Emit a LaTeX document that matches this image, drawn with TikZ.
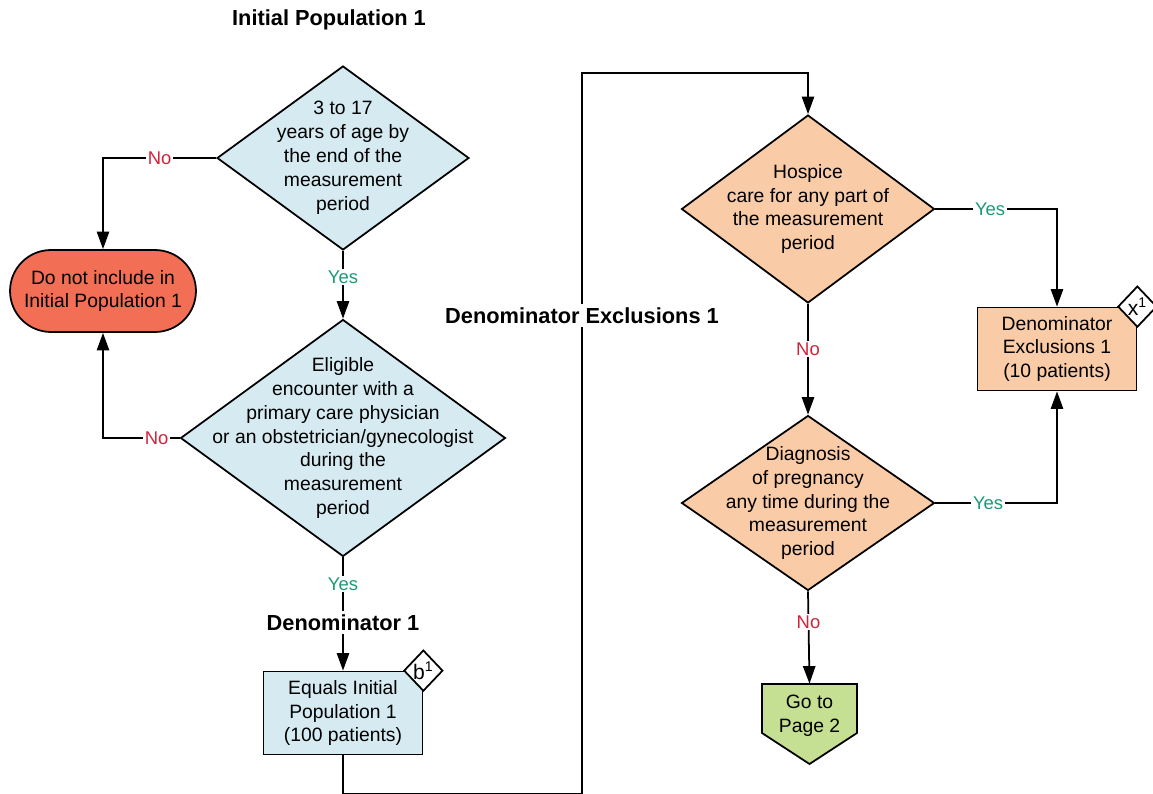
\documentclass[tikz,border=0pt]{standalone}
\usepackage{fontspec}
\setmainfont{Liberation Sans}
\usetikzlibrary{shapes.geometric,arrows.meta}
\definecolor{popblue}{HTML}{D5EAF1}
\definecolor{exorange}{HTML}{F9CBA6}
\definecolor{stopred}{HTML}{F26F55}
\definecolor{gogreen}{HTML}{C5DF93}
\definecolor{yesgreen}{HTML}{1B9A77}
\definecolor{nored}{HTML}{D0243A}
\begin{document}
\begin{tikzpicture}[x=0.02cm, y=-0.02cm,
    every node/.style={font=\fontsize{11}{13.6}\selectfont},
    box/.style={draw, line width=1pt, align=center, inner sep=0pt},
    dia/.style={box, diamond, fill=popblue},
    rect/.style={box, rectangle, minimum width=3.18cm, minimum height=1.66cm},
    tag/.style={box, diamond, fill=white, minimum width=0.78cm, minimum height=0.82cm,
      font=\fontsize{12}{14}\selectfont},
    yeslbl/.style={fill=white, text=yesgreen, inner sep=1pt, font=\fontsize{10.5}{12}\selectfont},
    nolbl/.style={yeslbl, text=nored},
    head/.style={fill=white, inner sep=2pt, font=\fontsize{12.4}{15}\selectfont\bfseries},
    arr/.style={line width=1pt, -{Triangle[length=10pt,width=7pt]}}]
  \useasboundingbox (0,0) rectangle (1153,794);
  % left column
  \node[head] (ipt) at (329,20) {Initial Population 1};
  \node[dia, minimum width=5.04cm, minimum height=3.68cm,
    label={[align=center]center:{3 to 17\\years of age by\\the end of the\\measurement\\period}}] (age) at (343,158) {};
  \node[dia, minimum width=6.5cm, minimum height=4.74cm,
    label={[align=center]center:{Eligible\\encounter with a\\primary care physician\\or an obstetrician/gynecologist\\during the\\measurement\\period}}] (enc) at (343,438) {};
  \node[box, rectangle, rounded corners=0.82cm, fill=stopred, minimum width=3.72cm,
    minimum height=1.64cm] (stop) at (103,291) {Do not include in\\Initial Population 1};
  \node[rect, fill=popblue] (den) at (343,713) {Equals Initial\\Population 1\\(100 patients)};
  \node[tag] (b1) at (den.north east) {b\textsuperscript{1}};
  % right column
  \node[dia, fill=exorange, minimum width=5.06cm, minimum height=3.76cm,
    label={[align=center]center:{Hospice\\care for any part of\\the measurement\\period}}] (hos) at (808,209) {};
  \node[dia, fill=exorange, minimum width=5.06cm, minimum height=3.5cm,
    label={[align=center]center:{Diagnosis\\of pregnancy\\any time during the\\measurement\\period}}] (preg) at (808,503) {};
  \node[rect, fill=exorange] (excl) at (1057,349) {Denominator\\Exclusions 1\\(10 patients)};
  \node[tag] (x1) at (excl.north east) {x\textsuperscript{1}};
  \draw[line width=1pt, fill=gogreen] (762,684) -- (857,684) -- (857,733) -- (809.5,764)
    -- (762,733) -- cycle;
  \node[align=center, inner sep=0pt, minimum width=1.9cm, minimum height=1.28cm] (go) at (809.5,716) {Go to\\Page 2};
  % connectors
  \draw[arr] (age.west) -| node[nolbl, pos=.25] {No} (stop.north);
  \draw[arr] (enc.west) -| node[nolbl, pos=.15] {No} (stop.south);
  \draw[arr] (age.south) -- node[yeslbl, pos=.39] {Yes} (enc.north);
  \draw[arr] (enc.south) -- node[yeslbl, pos=.235] {Yes} node[head, pos=.574] {Denominator 1} (den.north);
  \draw[arr] (den.south) |- (582,794) -- node[head, pos=.663] {Denominator Exclusions 1} (582,73) -| (hos.north);
  \draw[arr] (hos.east) -| node[yeslbl, pos=.225] {Yes} (excl.north);
  \draw[arr] (preg.east) -| node[yeslbl, pos=.217] {Yes} (excl.south);
  \draw[arr] (hos.south) -- node[nolbl, pos=.41] {No} (preg.north);
  \draw[arr] (preg.south) -- node[nolbl, pos=.33] {No} (go.north);
\end{tikzpicture}
\end{document}
